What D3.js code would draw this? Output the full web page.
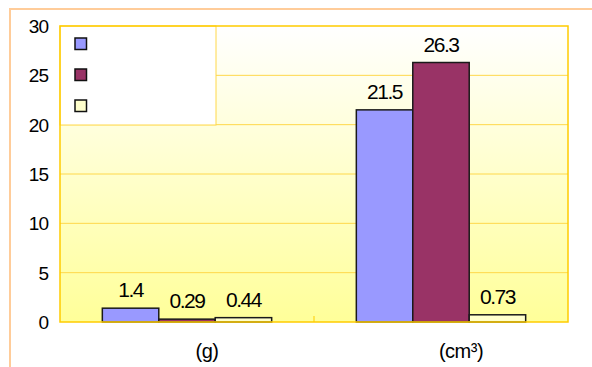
<!DOCTYPE html>
<html>
<head>
<meta charset="utf-8">
<script src="https://cdn.jsdelivr.net/npm/d3@7"></script>
<style>
  html, body { margin: 0; padding: 0; background: #fff; }
  svg { display: block; font-family: "Liberation Sans", Arial, sans-serif; }
</style>
</head>
<body>
<svg id="chart" width="592" height="367"></svg>
<script>
// ---- data ----
const categories = ["(g)", "(cm³)"];
const seriesNames = ["", "", ""];
const series1 = [1.4, 21.5];
const series2 = [0.29, 26.3];
const series3 = [0.44, 0.73];
const valueLabels1 = ["1.4", "21.5"];
const valueLabels2 = ["0.29", "26.3"];
const valueLabels3 = ["0.44", "0.73"];
const yTicks = [0, 5, 10, 15, 20, 25, 30];

const seriesColors = ["#9999FF", "#993366", "#FFFFCC"];
const allSeries = [series1, series2, series3];
const allLabels = [valueLabels1, valueLabels2, valueLabels3];

const svg = d3.select("#chart");
const plot = { left: 60, right: 568, top: 26, bottom: 322 };

const defs = svg.append("defs");
const grad = defs.append("linearGradient").attr("id", "bg").attr("x1", 0).attr("y1", 0).attr("x2", 0).attr("y2", 1);
grad.append("stop").attr("offset", "0%").attr("stop-color", "#FFFFFF");
grad.append("stop").attr("offset", "100%").attr("stop-color", "#FFFF99");

// outer frame
svg.append("rect").attr("x", 10).attr("y", 9).attr("width", 700).attr("height", 500)
  .attr("fill", "#fff").attr("stroke", "#FFCC99").attr("stroke-width", 2);

const x = d3.scaleBand().domain(categories).range([plot.left, plot.right])
  .paddingInner(1/3).paddingOuter(1/6);
const xs = d3.scaleBand().domain(d3.range(allSeries.length)).range([0, x.bandwidth()]);
const y = d3.scaleLinear().domain([0, 30]).range([plot.bottom, plot.top]);

// plot background
svg.append("rect").attr("x", plot.left).attr("y", plot.top)
  .attr("width", plot.right - plot.left).attr("height", plot.bottom - plot.top)
  .attr("fill", "url(#bg)");

// gridlines
svg.append("g").selectAll("line").data(yTicks.filter(d => d > 0 && d < 30)).join("line")
  .attr("x1", plot.left).attr("x2", plot.right)
  .attr("y1", d => y(d)).attr("y2", d => y(d))
  .attr("stroke", "#FFD84A").attr("stroke-width", 1);

// legend box
const legX = plot.left, legY = plot.top, legW = 156, legH = 99;
svg.append("rect").attr("x", legX).attr("y", legY).attr("width", legW).attr("height", legH)
  .attr("fill", "#fff").attr("stroke", "#FFD84A").attr("stroke-width", 1);
const leg = svg.append("g");
seriesNames.forEach((name, i) => {
  leg.append("rect").attr("x", 75).attr("y", 38 + i * 31).attr("width", 11.5).attr("height", 11.5)
    .attr("fill", seriesColors[i]).attr("stroke", "#111").attr("stroke-width", 1.5);
  leg.append("text").attr("x", 95).attr("y", 49 + i * 31).attr("font-size", 15).text(name);
});

// bars
allSeries.forEach((vals, si) => {
  const g = svg.append("g");
  g.selectAll("rect").data(vals).join("rect")
    .attr("x", (d, i) => x(categories[i]) + xs(si))
    .attr("y", d => y(d))
    .attr("width", xs.bandwidth())
    .attr("height", d => y(0) - y(d))
    .attr("fill", seriesColors[si]).attr("stroke", "#1a1a1a").attr("stroke-width", 1.5);
  g.selectAll("text").data(vals).join("text")
    .attr("x", (d, i) => x(categories[i]) + xs(si) + xs.bandwidth() / 2)
    .attr("y", d => y(d) - 11)
    .attr("text-anchor", "middle").attr("font-size", 21).attr("letter-spacing", -1.5)
    .attr("fill", "#000")
    .text((d, i) => allLabels[si][i]);
});

// plot border
svg.append("rect").attr("x", plot.left).attr("y", plot.top)
  .attr("width", plot.right - plot.left).attr("height", plot.bottom - plot.top)
  .attr("fill", "none").attr("stroke", "#FFCC00").attr("stroke-width", 1.5);

// category boundary tick
svg.append("line").attr("x1", x(categories[1]) - x.step() * x.paddingInner() / 2)
  .attr("x2", x(categories[1]) - x.step() * x.paddingInner() / 2)
  .attr("y1", plot.bottom - 6).attr("y2", plot.bottom)
  .attr("stroke", "#FFCC00").attr("stroke-width", 1);

// y tick labels
svg.append("g").selectAll("text").data(yTicks).join("text")
  .attr("x", 48).attr("y", d => y(d) + 7)
  .attr("text-anchor", "end").attr("font-size", 19).attr("letter-spacing", -1)
  .attr("fill", "#000").text(d => d);

// category labels
svg.append("g").selectAll("text").data(categories).join("text")
  .attr("x", d => x(d) + x.bandwidth() / 2 + 20)
  .attr("y", 358)
  .attr("text-anchor", "middle").attr("font-size", 20).attr("letter-spacing", -0.5)
  .attr("fill", "#000").text(d => d);
</script>
</body>
</html>
